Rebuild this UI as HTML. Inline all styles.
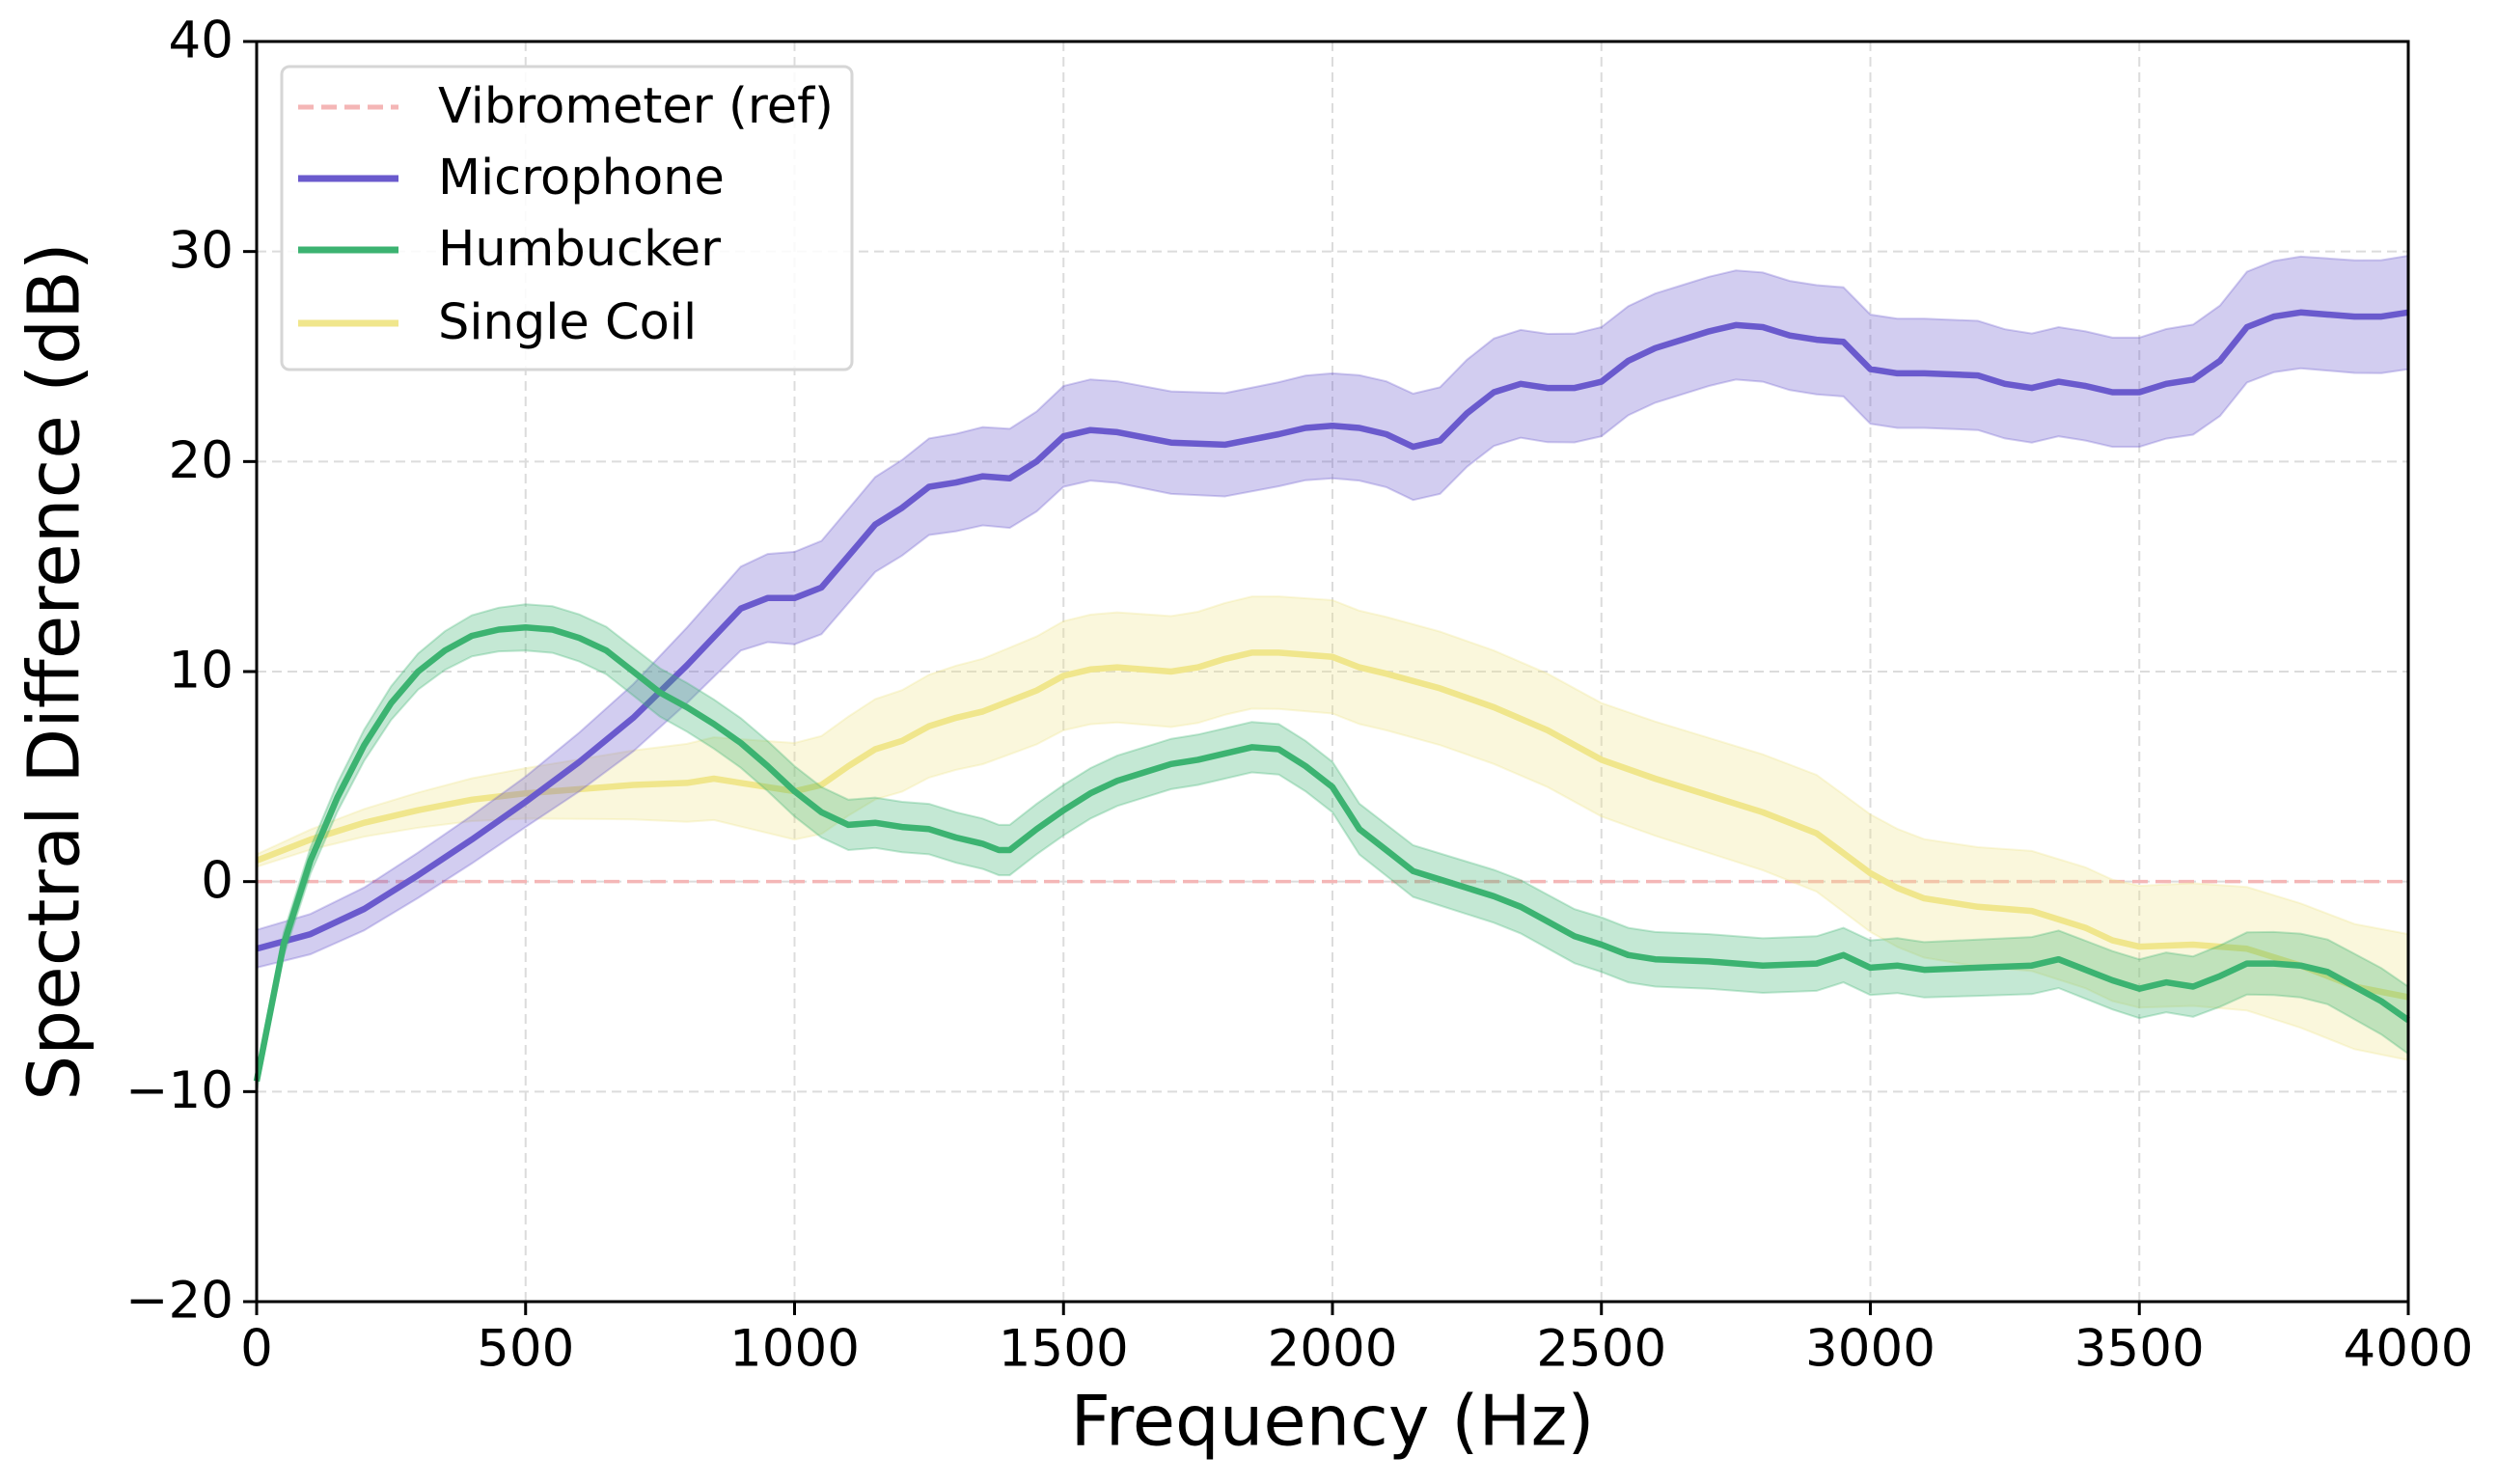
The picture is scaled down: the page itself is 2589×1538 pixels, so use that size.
<!DOCTYPE html>
<html><head><meta charset="utf-8"><style>
html,body{margin:0;padding:0;background:#fff;}
svg text{font-family:"DejaVu Sans","Liberation Sans",sans-serif;fill:#000;}
</style></head><body>
<svg id="chart" width="2589" height="1533" viewBox="0 0 2589 1533" xmlns="http://www.w3.org/2000/svg">
<rect width="2589" height="1533" fill="#fff"/>
<g id="grid"></g>
<g id="series"></g>
<g id="axes"></g>
<text x="61" y="696" font-size="74" text-anchor="middle" transform="rotate(-90 61 696)" dominant-baseline="middle">Spectral Difference (dB)</text>
<text x="1381" y="1478" font-size="72" text-anchor="middle" dominant-baseline="middle">Frequency (Hz)</text>
<g id="legend">
<rect x="292" y="69" width="591" height="314" rx="8" fill="#fff" fill-opacity="0.85" stroke="#d6d6d6" stroke-width="3"/>
<line x1="309" y1="111" x2="413" y2="111" stroke="#f4b6b6" stroke-width="5" stroke-dasharray="16,8"/>
<text x="454" y="113" font-size="51" dominant-baseline="middle">Vibrometer (ref)</text>
<line x1="309" y1="185" x2="413" y2="185" stroke="#6a5acd" stroke-width="7"/>
<text x="454" y="187" font-size="51" dominant-baseline="middle">Microphone</text>
<line x1="309" y1="259" x2="413" y2="259" stroke="#3cb371" stroke-width="7"/>
<text x="454" y="261" font-size="51" dominant-baseline="middle">Humbucker</text>
<line x1="309" y1="335" x2="413" y2="335" stroke="#f0e68c" stroke-width="7"/>
<text x="454" y="337" font-size="51" dominant-baseline="middle">Single Coil</text>
</g>
</svg>
<script>
const xTicks=[0,500,1000,1500,2000,2500,3000,3500,4000];
const yTicks=[-20,-10,0,10,20,30,40];
const micFreq=[0,100,200,300,400,500,600,700,800,900,950,1000,1050,1100,1150,1200,1250,1300,1350,1400,1450,1500,1550,1600,1700,1800,1900,1950,2000,2050,2100,2150,2200,2250,2300,2350,2400,2450,2500,2550,2600,2650,2700,2750,2800,2850,2900,2950,3000,3050,3100,3200,3250,3300,3350,3400,3450,3500,3550,3600,3650,3700,3750,3800,3850,3900,3950,4000];
const micMean=[-3.2,-2.5,-1.3,0.3,2,3.8,5.7,7.8,10.3,13,13.5,13.5,14,15.5,17,17.8,18.8,19,19.3,19.2,20,21.2,21.5,21.4,20.9,20.8,21.3,21.6,21.7,21.6,21.3,20.7,21,22.3,23.3,23.7,23.5,23.5,23.8,24.8,25.4,25.8,26.2,26.5,26.4,26,25.8,25.7,24.4,24.2,24.2,24.1,23.7,23.5,23.8,23.6,23.3,23.3,23.7,23.9,24.8,26.4,26.9,27.1,27,26.9,26.9,27.1];
const humFreq=[0,50,100,150,200,250,300,350,400,450,500,550,600,650,700,750,800,850,900,950,1000,1050,1100,1150,1200,1250,1300,1350,1380,1400,1450,1500,1550,1600,1650,1700,1750,1800,1850,1900,1950,2000,2050,2100,2150,2200,2250,2300,2350,2400,2450,2500,2550,2600,2700,2800,2900,2950,3000,3050,3100,3200,3300,3350,3400,3450,3500,3550,3600,3650,3700,3750,3800,3850,3900,3950,4000];
const humMean=[-9.5,-3,1,4,6.5,8.5,10,11,11.7,12,12.1,12,11.6,11,10,9,8.3,7.5,6.6,5.5,4.3,3.3,2.7,2.8,2.6,2.5,2.1,1.8,1.5,1.5,2.5,3.4,4.2,4.8,5.2,5.6,5.8,6.1,6.4,6.3,5.5,4.5,2.5,1.5,0.5,0.1,-0.3,-0.7,-1.2,-1.9,-2.6,-3,-3.5,-3.7,-3.8,-4,-3.9,-3.5,-4.1,-4,-4.2,-4.1,-4,-3.7,-4.2,-4.7,-5.1,-4.8,-5,-4.5,-3.9,-3.9,-4,-4.3,-5,-5.7,-6.6];
const scFreq=[0,100,200,300,400,500,600,700,800,850,900,1000,1050,1100,1150,1200,1250,1300,1350,1400,1450,1500,1550,1600,1700,1750,1800,1850,1900,2000,2050,2100,2200,2300,2400,2500,2600,2700,2800,2900,3000,3050,3100,3200,3300,3400,3450,3500,3600,3700,3800,3900,4000];
const scMean=[1,2,2.8,3.4,3.9,4.2,4.4,4.6,4.7,4.9,4.7,4.3,4.6,5.5,6.3,6.7,7.4,7.8,8.1,8.6,9.1,9.8,10.1,10.2,10,10.2,10.6,10.9,10.9,10.7,10.2,9.9,9.2,8.3,7.2,5.8,4.9,4.1,3.3,2.3,0.4,-0.3,-0.8,-1.2,-1.4,-2.2,-2.8,-3.1,-3,-3.2,-4,-5,-5.5];
const bandFreq=[0,500,1000,1500,2000,2500,3000,3500,4000];
const micStd=[0.9,1.2,2.2,2.4,2.5,2.6,2.6,2.6,2.7];
const humStd=[0.5,1.1,1.2,1.2,1.2,1.3,1.3,1.4,1.6];
const scStd=[0.3,1.2,2.3,2.6,2.7,2.7,2.8,2.9,3.0];
const refValue=[0];

const L=266,R=2496,T=43,B=1349,XMAX=4000,YMIN=-20,YMAX=40;
const sx=f=>L+(f/XMAX)*(R-L);
const sy=v=>B-(v-YMIN)/(YMAX-YMIN)*(B-T);
const NS='http://www.w3.org/2000/svg';
function mk(tag,attrs,parent){const e=document.createElementNS(NS,tag);for(const k in attrs)e.setAttribute(k,attrs[k]);parent.appendChild(e);return e;}
function stdAt(std,f){for(let i=0;i<bandFreq.length-1;i++){if(f<=bandFreq[i+1]){const t=(f-bandFreq[i])/(bandFreq[i+1]-bandFreq[i]);return std[i]+t*(std[i+1]-std[i]);}}return std[std.length-1];}

const grid=document.getElementById('grid'),axes=document.getElementById('axes'),ser=document.getElementById('series');
xTicks.forEach(t=>{
  if(t>0&&t<XMAX){const g=mk('line',{x1:sx(t),x2:sx(t),y1:T,y2:B,stroke:'#dcdcdc','stroke-width':2,'stroke-dasharray':'10,6'},grid);
  
  }
  const tk=mk('line',{x1:sx(t),x2:sx(t),y1:B,y2:B+14,stroke:'#000','stroke-width':3},axes);
  
  
  const tx=mk('text',{x:sx(t),y:B+52,'font-size':53,'text-anchor':'middle','dominant-baseline':'middle'},axes);
  tx.textContent=String(t);
  
  
});
yTicks.forEach(t=>{
  if(t>YMIN&&t<YMAX){const g=mk('line',{x1:L,x2:R,y1:sy(t),y2:sy(t),stroke:'#dcdcdc','stroke-width':2,'stroke-dasharray':'10,6'},grid);
  
  }
  const tk=mk('line',{x1:L-14,x2:L,y1:sy(t),y2:sy(t),stroke:'#000','stroke-width':3},axes);
  
  
  const tx=mk('text',{x:L-24,y:sy(t)+2,'font-size':53,'text-anchor':'end','dominant-baseline':'middle'},axes);
  tx.textContent=(t<0?'\u2212'+(-t):String(t));
  
  
});
const frame=mk('rect',{x:L,y:T,width:R-L,height:B-T,fill:'none',stroke:'#000','stroke-width':3},axes);



function drawSeries(freq,mean,std,color,name){
  let up='',lo='';
  freq.forEach((f,i)=>{up+=(i?'L':'M')+sx(f).toFixed(1)+','+sy(mean[i]+stdAt(std,f)).toFixed(1);});
  for(let i=freq.length-1;i>=0;i--){lo+='L'+sx(freq[i]).toFixed(1)+','+sy(mean[i]-stdAt(std,freq[i])).toFixed(1);}
  const band=mk('path',{d:up+lo+'Z',fill:color,'fill-opacity':0.3,stroke:color,'stroke-opacity':0.3,'stroke-width':2},ser);
  
  
  let d='';freq.forEach((f,i)=>{d+=(i?'L':'M')+sx(f).toFixed(1)+','+sy(mean[i]).toFixed(1);});
  const ln=mk('path',{d:d,fill:'none',stroke:color,'stroke-width':6.5,'stroke-linejoin':'round'},ser);
  
  
}
const ref=mk('line',{x1:L,x2:R,y1:sy(refValue[0]),y2:sy(refValue[0]),stroke:'#f4b6b6','stroke-width':3.5,'stroke-dasharray':'16,8'},ser);


drawSeries(scFreq,scMean,scStd,'#f0e68c','single-coil');
drawSeries(micFreq,micMean,micStd,'#6a5acd','microphone');
drawSeries(humFreq,humMean,humStd,'#3cb371','humbucker');
</script>
</body></html>
